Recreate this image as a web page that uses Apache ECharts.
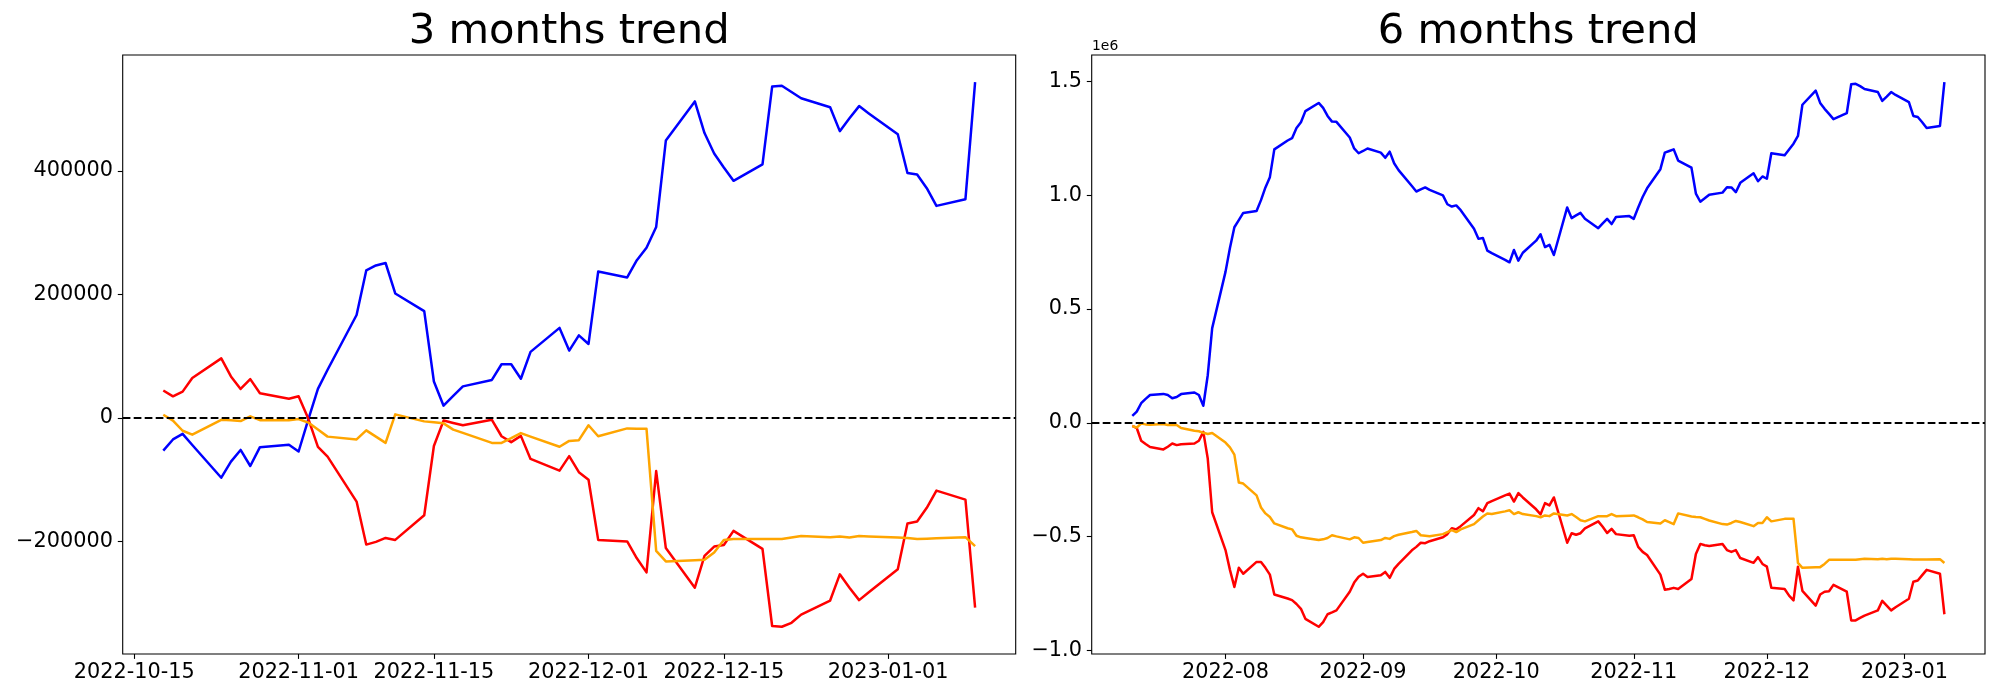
<!DOCTYPE html>
<html><head><meta charset="utf-8">
<script src="https://cdn.jsdelivr.net/npm/echarts@6/dist/echarts.min.js"></script>
<style>html,body{margin:0;padding:0;background:#fff}#c{width:2000px;height:700px}</style>
</head><body><div id="c"></div>
<script>
// ---------- 3 months trend ----------
const dates3m = [
'2022-10-18','2022-10-19','2022-10-20','2022-10-21',
'2022-10-24','2022-10-25','2022-10-26','2022-10-27','2022-10-28',
'2022-10-31','2022-11-01','2022-11-02','2022-11-03','2022-11-04',
'2022-11-07','2022-11-08','2022-11-09','2022-11-10','2022-11-11',
'2022-11-14','2022-11-15','2022-11-16','2022-11-17','2022-11-18',
'2022-11-21','2022-11-22','2022-11-23','2022-11-24','2022-11-25',
'2022-11-28','2022-11-29','2022-11-30','2022-12-01','2022-12-02',
'2022-12-05','2022-12-06','2022-12-07','2022-12-08','2022-12-09',
'2022-12-12','2022-12-13','2022-12-14','2022-12-15','2022-12-16',
'2022-12-19','2022-12-20','2022-12-21','2022-12-22','2022-12-23',
'2022-12-26','2022-12-27','2022-12-28','2022-12-29','2022-12-30',
'2023-01-02','2023-01-03','2023-01-04','2023-01-05','2023-01-06',
'2023-01-09','2023-01-10'];
const blue3m = [
-53000,-35000,-26000,-44000,
-97000,-71000,-52000,-78000,-47500,
-43700,-54500,-3000,47000,78000,
166700,239000,247000,251000,201600,
173000,59000,19700,35500,51000,
61500,86900,86900,63400,107000,
145800,109000,133800,119800,237100,
227600,255500,275800,309400,449500,
512900,461600,428600,405800,384200,
410800,537000,538300,528100,518000,
503400,464700,485700,505300,493500,
459700,396900,394300,372200,343600,
354400,544000];
const red3m = [
44400,34900,42500,64700,
96400,67200,46900,62800,39900,
31100,34900,-1100,-46900,-62800,
-135700,-205400,-201000,-194600,-197800,
-157900,-45600,-4400,-8200,-12000,
-3200,-29800,-39300,-29200,-66600,
-85600,-62100,-88100,-100200,-197800,
-200300,-227600,-250400,-86200,-211100,
-275200,-223800,-208600,-206100,-183200,
-212400,-337300,-338600,-332200,-318900,
-296100,-253600,-275200,-295400,-282500,
-245400,-171200,-168000,-145800,-117900,
-132500,-307500];
const orange3m = [
5100,-4400,-20900,-27300,
-3200,-3800,-5100,2500,-3800,
-3800,-1900,-7600,-19000,-30400,
-34900,-20300,-30400,-40600,5700,
-5700,-7300,-8900,-19000,-24400,
-40600,-40600,-33000,-24700,-30400,
-46900,-37400,-36100,-12000,-29800,
-17100,-17800,-17800,-215600,-232700,
-230800,-230100,-218100,-197800,-196500,
-196500,-196500,-196500,-194000,-191500,
-193400,-192100,-194000,-191500,-192100,
-194000,-194600,-196500,-195900,-195300,
-193400,-208000];
const xTicks3m = ['2022-10-15','2022-11-01','2022-11-15','2022-12-01','2022-12-15','2023-01-01'];
const yTicks3m = [-200000, 0, 200000, 400000];

// ---------- 6 months trend (values in units of 1e6) ----------
const dates6m = [
'2022-07-11','2022-07-12','2022-07-13','2022-07-14','2022-07-15',
'2022-07-18','2022-07-19','2022-07-20','2022-07-21','2022-07-22',
'2022-07-25','2022-07-26','2022-07-27','2022-07-28','2022-07-29',
'2022-08-01','2022-08-02','2022-08-03','2022-08-04','2022-08-05',
'2022-08-08','2022-08-09','2022-08-10','2022-08-11','2022-08-12',
'2022-08-15','2022-08-16','2022-08-17','2022-08-18','2022-08-19',
'2022-08-22','2022-08-23','2022-08-24','2022-08-25','2022-08-26',
'2022-08-29','2022-08-30','2022-08-31','2022-09-01','2022-09-02',
'2022-09-05','2022-09-06','2022-09-07','2022-09-08','2022-09-09',
'2022-09-12','2022-09-13','2022-09-14','2022-09-15','2022-09-16',
'2022-09-19','2022-09-20','2022-09-21','2022-09-22','2022-09-23',
'2022-09-26','2022-09-27','2022-09-28','2022-09-29','2022-09-30',
'2022-10-03','2022-10-04','2022-10-05','2022-10-06','2022-10-07',
'2022-10-10','2022-10-11','2022-10-12','2022-10-13','2022-10-14',
'2022-10-17','2022-10-18','2022-10-19','2022-10-20','2022-10-21',
'2022-10-24','2022-10-25','2022-10-26','2022-10-27','2022-10-28',
'2022-10-31','2022-11-01','2022-11-02','2022-11-03','2022-11-04',
'2022-11-07','2022-11-08','2022-11-09','2022-11-10','2022-11-11',
'2022-11-14','2022-11-15','2022-11-16','2022-11-17','2022-11-18',
'2022-11-21','2022-11-22','2022-11-23','2022-11-24','2022-11-25',
'2022-11-28','2022-11-29','2022-11-30','2022-12-01','2022-12-02',
'2022-12-05','2022-12-06','2022-12-07','2022-12-08','2022-12-09',
'2022-12-12','2022-12-13','2022-12-14','2022-12-15','2022-12-16',
'2022-12-19','2022-12-20','2022-12-21','2022-12-22','2022-12-23',
'2022-12-26','2022-12-27','2022-12-28','2022-12-29','2022-12-30',
'2023-01-02','2023-01-03','2023-01-04','2023-01-05','2023-01-06',
'2023-01-09','2023-01-10'];
const blue6m = [
0.030,0.049,0.086,0.105,0.122,
0.127,0.122,0.108,0.113,0.126,
0.133,0.122,0.075,0.209,0.416,
0.663,0.768,0.859,0.890,0.922,
0.930,0.978,1.034,1.079,1.201,
1.240,1.250,1.295,1.320,1.369,
1.405,1.383,1.348,1.323,1.322,
1.253,1.205,1.184,1.194,1.205,
1.187,1.164,1.191,1.140,1.110,
1.040,1.016,1.025,1.034,1.023,
0.999,0.960,0.950,0.955,0.934,
0.852,0.808,0.812,0.756,0.745,
0.716,0.705,0.759,0.712,0.747,
0.800,0.828,0.772,0.782,0.737,
0.946,0.899,0.911,0.922,0.896,
0.855,0.876,0.896,0.873,0.904,
0.908,0.896,0.946,0.992,1.030,
1.114,1.187,1.194,1.201,1.152,
1.121,1.007,0.971,0.986,1.002,
1.011,1.035,1.034,1.013,1.054,
1.096,1.061,1.082,1.072,1.184,
1.175,1.201,1.226,1.260,1.397,
1.459,1.405,1.379,1.357,1.334,
1.360,1.487,1.489,1.479,1.466,
1.453,1.414,1.433,1.453,1.440,
1.409,1.348,1.343,1.320,1.295,
1.304,1.496];
const red6m = [
-0.014,-0.023,-0.079,-0.093,-0.106,
-0.117,-0.105,-0.091,-0.098,-0.094,
-0.091,-0.079,-0.040,-0.157,-0.393,
-0.559,-0.646,-0.721,-0.637,-0.663,
-0.611,-0.611,-0.637,-0.667,-0.754,
-0.772,-0.779,-0.796,-0.817,-0.861,
-0.896,-0.876,-0.841,-0.833,-0.824,
-0.742,-0.702,-0.676,-0.663,-0.677,
-0.670,-0.655,-0.681,-0.642,-0.620,
-0.560,-0.545,-0.527,-0.529,-0.520,
-0.503,-0.489,-0.463,-0.468,-0.454,
-0.405,-0.375,-0.389,-0.353,-0.344,
-0.319,-0.311,-0.346,-0.309,-0.328,
-0.380,-0.402,-0.353,-0.363,-0.328,
-0.527,-0.485,-0.492,-0.485,-0.464,
-0.433,-0.457,-0.484,-0.466,-0.489,
-0.496,-0.494,-0.545,-0.567,-0.581,
-0.667,-0.733,-0.730,-0.725,-0.730,
-0.686,-0.576,-0.532,-0.538,-0.541,
-0.532,-0.559,-0.567,-0.559,-0.594,
-0.615,-0.590,-0.620,-0.632,-0.725,
-0.730,-0.759,-0.780,-0.632,-0.738,
-0.803,-0.754,-0.742,-0.740,-0.712,
-0.742,-0.868,-0.868,-0.857,-0.847,
-0.824,-0.782,-0.803,-0.824,-0.810,
-0.773,-0.698,-0.693,-0.669,-0.646,
-0.663,-0.841];
const orange6m = [
-0.014,-0.021,-0.003,-0.007,-0.009,
-0.005,-0.010,-0.010,-0.010,-0.023,
-0.035,-0.037,-0.044,-0.049,-0.045,
-0.087,-0.108,-0.140,-0.262,-0.267,
-0.319,-0.372,-0.398,-0.414,-0.442,
-0.463,-0.468,-0.496,-0.503,-0.506,
-0.515,-0.512,-0.506,-0.494,-0.499,
-0.512,-0.503,-0.506,-0.527,-0.524,
-0.515,-0.506,-0.510,-0.498,-0.492,
-0.480,-0.475,-0.494,-0.496,-0.498,
-0.489,-0.480,-0.471,-0.480,-0.468,
-0.445,-0.428,-0.412,-0.398,-0.401,
-0.389,-0.384,-0.401,-0.393,-0.401,
-0.410,-0.415,-0.407,-0.410,-0.398,
-0.407,-0.401,-0.414,-0.428,-0.433,
-0.410,-0.410,-0.410,-0.401,-0.410,
-0.408,-0.407,-0.415,-0.424,-0.436,
-0.442,-0.428,-0.436,-0.445,-0.398,
-0.412,-0.414,-0.415,-0.422,-0.429,
-0.445,-0.447,-0.440,-0.431,-0.436,
-0.454,-0.440,-0.440,-0.415,-0.433,
-0.422,-0.422,-0.422,-0.615,-0.637,
-0.635,-0.634,-0.620,-0.602,-0.602,
-0.602,-0.602,-0.602,-0.599,-0.597,
-0.599,-0.597,-0.599,-0.597,-0.597,
-0.599,-0.600,-0.601,-0.601,-0.600,
-0.599,-0.616];
const xTicks6m = ['2022-08-01','2022-09-01','2022-10-01','2022-11-01','2022-12-01','2023-01-01'];
const yTicks6m = [-1.0, -0.5, 0.0, 0.5, 1.0, 1.5];

// ---------- helpers ----------
const FONT = 'DejaVu Sans';
const ts = s => { const p = s.split('-').map(Number); return Date.UTC(p[0], p[1] - 1, p[2]); };
const pad2 = n => (n < 10 ? '0' : '') + n;
const fmtDay = v => { const d = new Date(v); return d.getUTCFullYear() + '-' + pad2(d.getUTCMonth() + 1) + '-' + pad2(d.getUTCDate()); };
const fmtMonth = v => { const d = new Date(v); return d.getUTCFullYear() + '-' + pad2(d.getUTCMonth() + 1); };
const minus = s => String(s).replace('-', '\u2212');
function range(arrs, frac) {
  let lo = Infinity, hi = -Infinity;
  arrs.forEach(a => a.forEach(v => { if (v < lo) lo = v; if (v > hi) hi = v; }));
  const m = (hi - lo) * frac; return [lo - m, hi + m];
}
const pairs = (dates, vals) => dates.map((d, i) => [ts(d), vals[i]]);

const x3 = range([dates3m.map(ts)], 0.05);
const x6 = range([dates6m.map(ts)], 0.05);
const y3 = range([blue3m, red3m, orange3m], 0.05);
const y6 = range([blue6m, red6m, orange6m], 0.05);

const tickStyle = { show: true, length: 4.9, inside: false, lineStyle: { color: '#000', width: 1.1 } };
const labelStyle = { color: '#000', fontFamily: FONT, fontSize: 20.8 };

function xAxis(gi, rng, ticks, fmt) {
  return {
    type: 'value', gridIndex: gi, min: rng[0], max: rng[1], scale: true,
    axisLine: { show: false, onZero: false },
    splitLine: { show: false },
    axisTick: Object.assign({ customValues: ticks.map(ts) }, tickStyle),
    axisLabel: Object.assign({ customValues: ticks.map(ts), formatter: v => fmt(v), margin: 8, hideOverlap: false, showMinLabel: true, showMaxLabel: true }, labelStyle)
  };
}
function yAxis(gi, rng, ticks, fmt) {
  return {
    type: 'value', gridIndex: gi, min: rng[0], max: rng[1], scale: true,
    axisLine: { show: false, onZero: false },
    splitLine: { show: false },
    axisTick: Object.assign({ customValues: ticks }, tickStyle),
    axisLabel: Object.assign({ customValues: ticks, formatter: v => fmt(v), margin: 9.8 }, labelStyle)
  };
}
function line(name, gi, data, color, extra) {
  return Object.assign({
    name, type: 'line', xAxisIndex: gi, yAxisIndex: gi, data,
    showSymbol: false, symbol: 'none', silent: true, animation: false,
    lineStyle: { color, width: 2.5, join: 'round' }, itemStyle: { color },
    emphasis: { disabled: true }
  }, extra || {});
}
const zeroLine = {
  markLine: {
    silent: true, symbol: ['none', 'none'], animation: false,
    label: { show: false },
    lineStyle: { color: '#000', width: 2.2, type: [7.7, 3.3] },
    emphasis: { disabled: true },
    data: [{ yAxis: 0 }]
  }
};

const chart = echarts.init(document.getElementById('c'), null, { renderer: 'canvas' });
chart.setOption({
  backgroundColor: '#fff',
  animation: false,
  grid: [
    { left: 122.7, top: 55, width: 893, height: 599, show: true, borderColor: '#000', borderWidth: 1.1, backgroundColor: 'transparent', containLabel: false },
    { left: 1091.7, top: 55, width: 893.3, height: 599, show: true, borderColor: '#000', borderWidth: 1.1, backgroundColor: 'transparent', containLabel: false }
  ],
  xAxis: [
    xAxis(0, x3, xTicks3m, fmtDay),
    xAxis(1, x6, xTicks6m, fmtMonth)
  ],
  yAxis: [
    yAxis(0, y3, yTicks3m, v => minus(v)),
    yAxis(1, y6, yTicks6m, v => minus(v.toFixed(1)))
  ],
  graphic: [
    { type: 'text', x: 569.2, y: 32.5, silent: true,
      style: { text: '3 months trend', fill: '#000', fontFamily: FONT, fontSize: 41.67, align: 'center', verticalAlign: 'middle' } },
    { type: 'text', x: 1538.3, y: 32.5, silent: true,
      style: { text: '6 months trend', fill: '#000', fontFamily: FONT, fontSize: 41.67, align: 'center', verticalAlign: 'middle' } },
    { type: 'text', x: 1092, y: 46.5, silent: true,
      style: { text: '1e6', fill: '#000', fontFamily: FONT, fontSize: 13.9, align: 'left', verticalAlign: 'middle' } }
  ],
  series: [
    line('blue3m', 0, pairs(dates3m, blue3m), '#0000ff'),
    line('red3m', 0, pairs(dates3m, red3m), '#ff0000'),
    line('orange3m', 0, pairs(dates3m, orange3m), '#ffa500', zeroLine),
    line('blue6m', 1, pairs(dates6m, blue6m), '#0000ff'),
    line('red6m', 1, pairs(dates6m, red6m), '#ff0000'),
    line('orange6m', 1, pairs(dates6m, orange6m), '#ffa500', zeroLine)
  ]
});
</script>
</body></html>
